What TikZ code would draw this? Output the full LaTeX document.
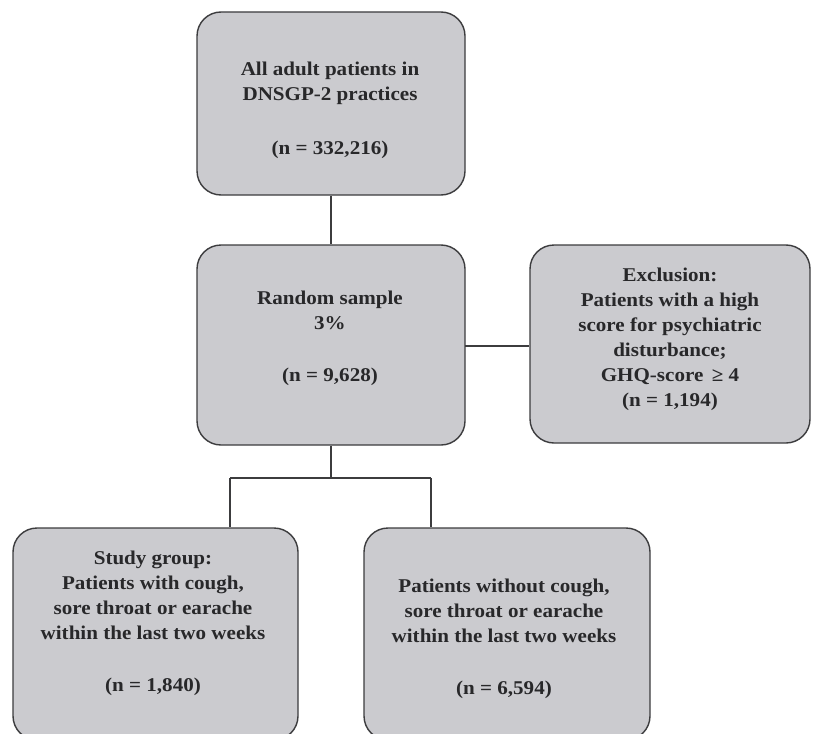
\documentclass[tikz,border=0pt]{standalone}
\usepackage{fontspec}
\setmainfont{Liberation Serif}[FakeStretch=1.08]
\definecolor{boxfill}{RGB}{203,203,207}
\definecolor{boxline}{RGB}{60,60,62}
\definecolor{txt}{RGB}{40,40,42}
\tikzset{
  flowbox/.style={draw=boxline, line width=1.4pt, fill=boxfill, rounded corners=24pt, rectangle, inner sep=0pt},
  boxtext/.style={font=\fontsize{19.5}{25}\selectfont\bfseries, text=txt, align=center, inner sep=0pt},
  conn/.style={draw=boxline, line width=1.3pt}
}
\begin{document}
\begin{tikzpicture}[x=1pt,y=-1pt]
\useasboundingbox (0,0) rectangle (813,733);
\clip (0,0) rectangle (813,733);
% boxes
\node[flowbox, minimum width=268pt, minimum height=183pt] (top) at (331,103.5) {};
\node[flowbox, minimum width=268pt, minimum height=200pt] (mid) at (331,345) {};
\node[flowbox, minimum width=280pt, minimum height=198pt] (excl) at (670,344) {};
\node[flowbox, minimum width=285pt, minimum height=212pt] (study) at (155.5,634) {};
\node[flowbox, minimum width=286pt, minimum height=212pt] (other) at (507,634) {};
% texts
\node[boxtext] (topT) at (330,110) {All adult patients in\\DNSGP-2 practices\\[29pt](n = 332,216)};
\node[boxtext] (midT) at (330,338) {Random sample\\3\%\\[27pt](n = 9,628)};
\node[boxtext] (exclT) at (670,339.5) {Exclusion:\\Patients with a high\\score for psychiatric\\disturbance;\\GHQ-score \,≥ 4\\(n = 1,194)};
\node[boxtext] (studyT) at (153,623.5) {Study group:\\Patients with cough,\\sore throat or earache\\within the last two weeks\\[27pt](n = 1,840)};
\node[boxtext] (otherT) at (504,639) {Patients without cough,\\sore throat or earache\\within the last two weeks\\[27pt](n = 6,594)};
% connectors
\coordinate (split) at (331,478);
\coordinate (jL) at (230,478);
\coordinate (jR) at (431,478);
\coordinate (side) at (465,346);
\draw[conn] (top.south) -- (mid.north);
\draw[conn] (side) -- (side -| excl.west);
\draw[conn] (mid.south) -- (split);
\draw[conn] (jL) -- (jR);
\draw[conn] (jL) -- (jL |- study.north);
\draw[conn] (jR) -- (jR |- other.north);
\end{tikzpicture}
\end{document}
